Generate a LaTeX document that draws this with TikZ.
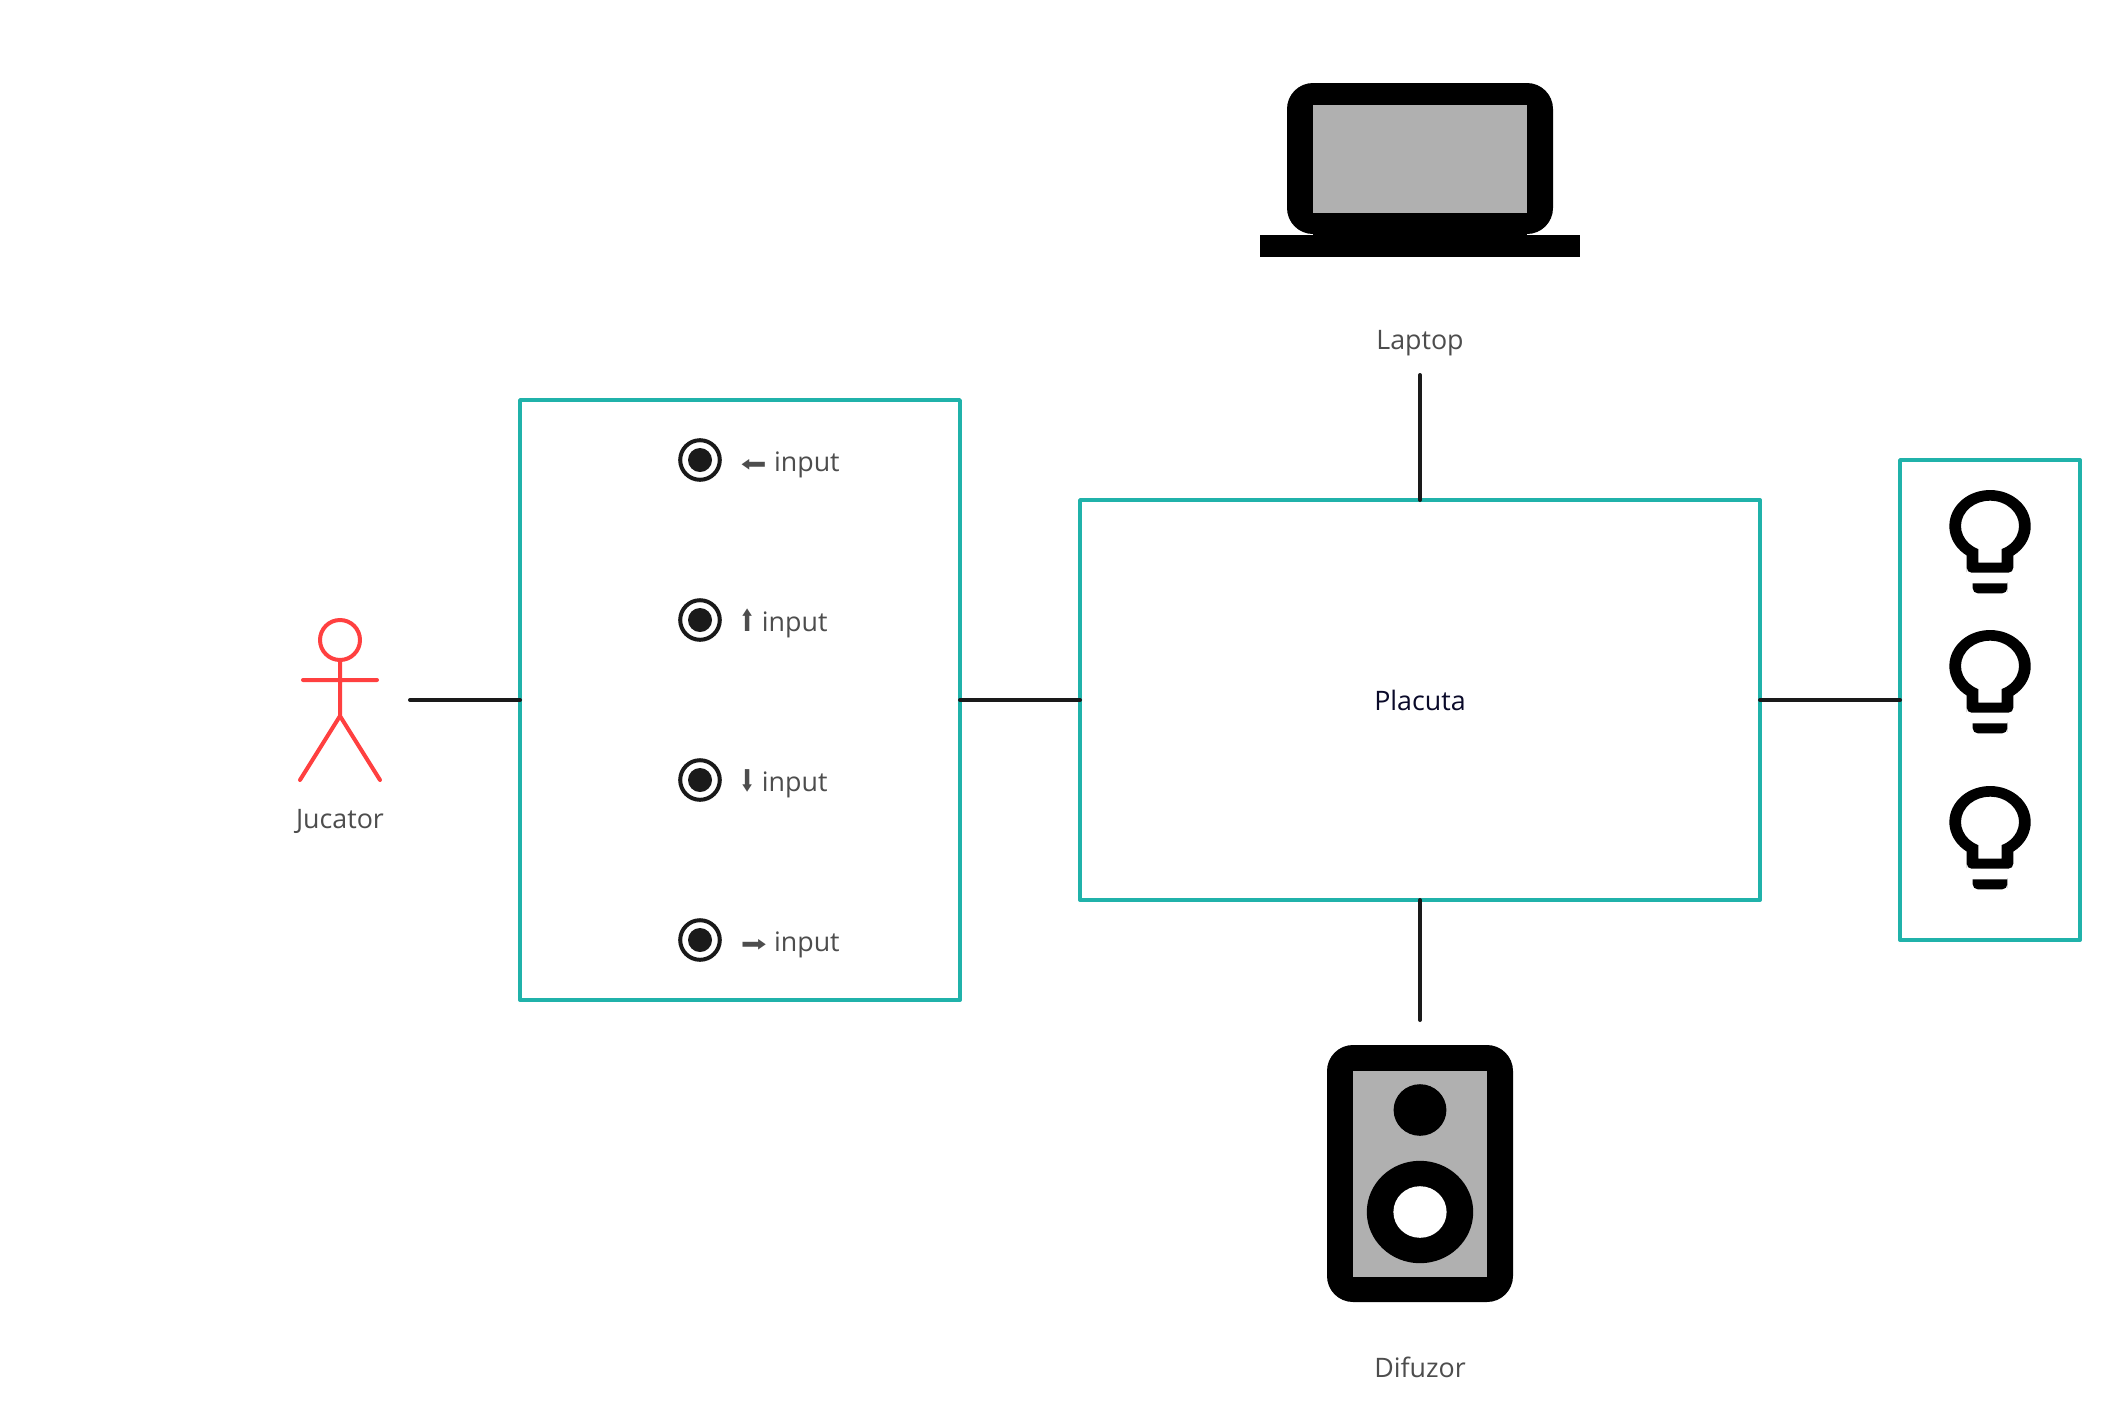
\documentclass[tikz,border=0pt]{standalone}
\usepackage{fontspec}
\setmainfont{Open Sans}
\newfontfamily\symfont{DejaVu Sans}
\definecolor{tealbox}{HTML}{20B2AA}
\definecolor{inkline}{HTML}{1A1A1A}
\definecolor{labeltext}{HTML}{4D4D4D}
\definecolor{titletext}{HTML}{0A0A2A}
\definecolor{actorred}{HTML}{FF4040}
\definecolor{screengrey}{HTML}{B0B0B0}
\newcommand{\harrow}[1]{\makebox[16.6pt][l]{\symfont\scalebox{1.15}[0.8]{#1}}}
\newcommand{\varrow}[1]{\makebox[11pt][l]{\symfont\scalebox{0.72}[1.12]{#1}}}
\tikzset{
  panel/.style={draw=tealbox,line width=1.9pt,line join=round,fill=white,inner sep=0pt,outer sep=0pt},
  wire/.style={draw=inkline,line width=2pt,line cap=round},
  labelnode/.style={text=labeltext,font=\fontsize{13.4}{15}\selectfont,inner sep=0pt},
  inputlabel/.style={labelnode,anchor=base west},
  stickline/.style={draw=actorred,line width=2pt,line cap=round,line join=round},
  bulbicon/.pic={
    \fill[black,even odd rule]
      (-23.3,65.5) arc[start angle=235,end angle=-55,x radius=20.35pt,y radius=18pt]
      -- (23.3,77) [rounded corners=2.5pt] -- (23.3,82.7) -- (-23.3,82.7) -- (-23.3,77) [sharp corners] -- cycle
      (-11.7,59.1) arc[start angle=246.2,end angle=-66.2,x radius=14.5pt,y radius=12.65pt]
      -- (11.7,72.7) -- (-11.7,72.7) -- cycle;
    \fill[black] (-17.3,93.3) -- (-17.3,97) [rounded corners=2.5pt] -- (-17.3,103.3) -- (17.3,103.3) -- (17.3,97) [sharp corners] -- (17.3,93.3) -- cycle;
  },
  radioicon/.pic={
    \draw[inkline,line width=2pt] (0,0) circle[radius=9.9pt];
    \fill[inkline] (0,0) circle[radius=6pt];
  }
}
\begin{document}
\begin{tikzpicture}[x=0.5pt,y=-0.5pt]
\useasboundingbox[fill=white] (0,0) rectangle (2121,1425);

% panels
\node[panel,minimum width=220pt,minimum height=300pt] (inputs) at (740,700) {};
\node[panel,minimum width=340pt,minimum height=200pt,text=titletext,font=\fontsize{13.4}{15}\selectfont] (board) at (1420,700) {\raisebox{-1pt}{Placuta}};
\node[panel,minimum width=90pt,minimum height=240pt] (lights) at (1990,700) {};

% actor
\draw[stickline] (340,640) circle[radius=10pt];
\draw[stickline] (340,660) -- (340,716) (303,680) -- (377,680) (300,780) -- (340,716) -- (380,780);
\node[labelnode] (jucator) at (340,821.5) {Jucator};
\coordinate (actorend) at (410,700);

% input rows
\foreach \yy in {460,620,780,940} { \pic at (700,\yy) {radioicon}; }
\node[inputlabel] (inleft) at (740.5,471) {\harrow{⬅}input};
\node[inputlabel] (inup) at (739.5,631) {\varrow{⬆}input};
\node[inputlabel] (indown) at (739.5,791) {\varrow{⬇}input};
\node[inputlabel] (inright) at (740.5,951) {\harrow{➡}input};

% laptop
\fill[black,rounded corners=13pt] (1287,83) rectangle (1553,234);
\fill[black] (1260,235) rectangle (1580,257);
\fill[black] (1313,200) rectangle (1527,236);
\fill[screengrey] (1313,105) rectangle (1527,213);
\node[labelnode] (laptop) at (1420,343.5) {Laptop};
\coordinate (laptopend) at (1420,375);

% speaker
\fill[black,rounded corners=13pt] (1327,1045) rectangle (1513,1302);
\fill[screengrey] (1353,1071) rectangle (1487,1277);
\fill[black] (1420,1110) ellipse[x radius=13.2pt,y radius=12.9pt];
\fill[black] (1420,1212) ellipse[x radius=26.6pt,y radius=25.6pt];
\fill[white] (1420,1212) ellipse[x radius=13.3pt,y radius=12.9pt];
\node[labelnode] (difuzor) at (1420,1367.5) {Difuzor};
\coordinate (speakerend) at (1420,1020);

% bulbs
\pic at (1990,490) {bulbicon};
\pic at (1990,630) {bulbicon};
\pic at (1990,786) {bulbicon};

% connectors
\draw[wire] (actorend) -- (inputs.west);
\draw[wire] (inputs.east) -- (board.west);
\draw[wire] (board.east) -- (lights.west);
\draw[wire] (laptopend) -- (board.north);
\draw[wire] (board.south) -- (speakerend);
\end{tikzpicture}
\end{document}
